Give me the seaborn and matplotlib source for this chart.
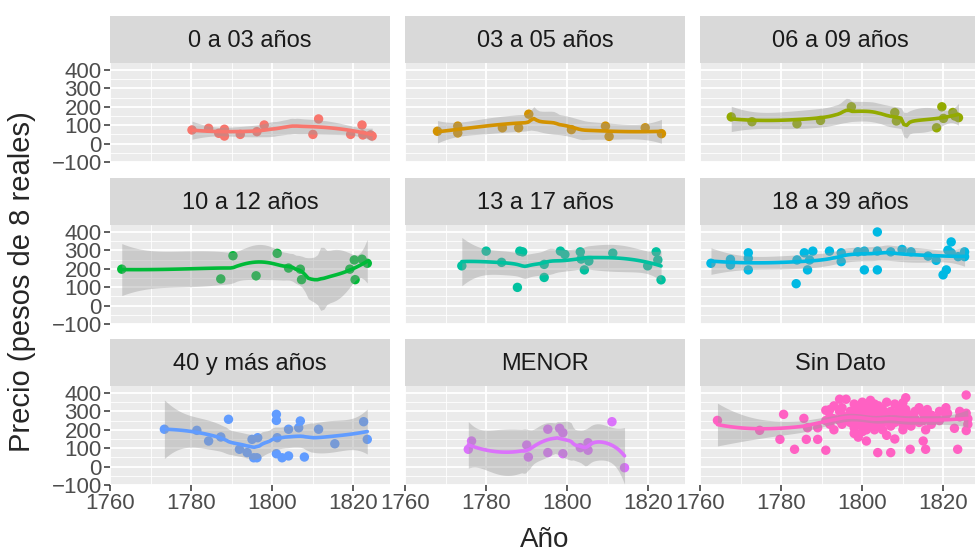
import numpy as np
import matplotlib
matplotlib.use('Agg')
import matplotlib.pyplot as plt
import seaborn as sns

# Paneles (facetas) y colores tipo ggplot
grupos = ['0 a 03 años', '03 a 05 años', '06 a 09 años',
          '10 a 12 años', '13 a 17 años', '18 a 39 años',
          '40 y más años', 'MENOR', 'Sin Dato']
colores = ['#F8766D', '#D39200', '#93AA00', '#00BA38', '#00C19F',
           '#00B9E3', '#619CFF', '#DB72FB', '#FF61C3']

anio_0_3 = [1780.2, 1784.3, 1786.8, 1788.2, 1788.2, 1792.1, 1796.2, 1798.0,
            1810.0, 1811.4, 1819.3, 1822.1, 1822.3, 1824.2, 1824.6]
precio_0_3 = [74, 83, 56, 78, 41, 50, 65, 101, 50, 134, 50, 101, 47, 47, 41]

anio_3_5 = [1768.0, 1773.0, 1773.0, 1784.0, 1788.0, 1790.5, 1801.0, 1809.4,
            1810.3, 1819.2, 1823.2]
precio_3_5 = [67, 95, 58, 86, 86, 160, 76, 95, 39, 86, 54]

anio_6_9 = [1767.7, 1772.8, 1783.9, 1789.7, 1797.3, 1808.0, 1808.4, 1818.3,
            1819.6, 1820.0, 1822.3, 1822.8, 1823.7]
precio_6_9 = [145, 119, 108, 126, 200, 169, 123, 86, 200, 137, 169, 150, 141]

anio_10_12 = [1762.9, 1787.3, 1790.3, 1796.0, 1801.2, 1804.0, 1806.9, 1807.2,
              1819.1, 1820.2, 1820.4, 1822.1, 1823.4]
precio_10_12 = [198, 145, 271, 162, 284, 204, 198, 141, 198, 248, 141, 252, 230]

anio_13_17 = [1774.0, 1780.0, 1783.8, 1787.7, 1788.3, 1789.0, 1794.3, 1794.3,
              1798.3, 1799.4, 1803.2, 1803.4, 1804.2, 1805.3, 1811.2, 1819.8,
              1821.9, 1822.3, 1823.1]
precio_13_17 = [216, 296, 235, 99, 296, 292, 224, 153, 296, 278, 292, 253,
                194, 242, 285, 216, 292, 248, 140]

anio_18_39 = [1762.7, 1767.5, 1767.5, 1771.9, 1771.9, 1771.9, 1783.7, 1783.9,
              1785.7, 1786.5, 1787.0, 1787.8, 1791.9, 1794.8, 1794.8, 1798.9,
              1800.5, 1800.5, 1803.7, 1803.7, 1803.7, 1807.0, 1809.8, 1812.0,
              1816.2, 1818.2, 1819.9, 1820.7, 1821.1, 1821.9, 1821.9, 1823.6,
              1825.2, 1825.2]
precio_18_39 = [230, 251, 221, 287, 257, 194, 119, 248, 287, 194, 248, 296,
                296, 287, 239, 292, 194, 296, 400, 194, 296, 292, 305, 292,
                269, 246, 167, 194, 301, 346, 287, 266, 292, 266]

anio_40 = [1773.4, 1781.4, 1784.3, 1787.3, 1789.2, 1791.9, 1793.8, 1795.0,
           1795.4, 1796.2, 1796.4, 1801.0, 1801.0, 1801.2, 1801.0, 1802.4,
           1804.0, 1804.0, 1806.9, 1806.5, 1807.9, 1811.4, 1815.4, 1822.5,
           1823.4]
precio_40 = [203, 197, 139, 161, 257, 94, 76, 148, 48, 48, 157, 284, 251, 157,
             70, 48, 58, 203, 248, 211, 52, 203, 124, 244, 148]

anio_menor = [1775.6, 1776.4, 1790.0, 1790.4, 1795.2, 1795.2, 1798.1, 1798.9,
              1798.9, 1803.2, 1805.1, 1805.1, 1811.0, 1814.1]
precio_menor = [94, 139, 117, 52, 203, 76, 208, 184, 70, 103, 130, 89, 244, -6]

anio_sd = [1764.3, 1774.7, 1779.7, 1780.6, 1783.3, 1785.6, 1786.2, 1786.5,
           1789.0, 1789.0, 1791.0, 1791.0, 1791.0, 1792.0, 1792.0, 1792.0,
           1793.0, 1793.0, 1793.0, 1794.4, 1794.4, 1794.4, 1795.0, 1795.0,
           1795.0, 1796.0, 1796.0, 1797.0, 1797.0, 1798.0, 1798.0, 1798.0,
           1798.0, 1798.0, 1799.0, 1799.0, 1799.0, 1799.0, 1799.0, 1800.0,
           1800.0, 1800.0, 1800.0, 1800.0, 1800.0, 1801.0, 1801.0, 1801.0,
           1801.0, 1801.0, 1801.0, 1802.0, 1802.0, 1802.0, 1802.0, 1802.0,
           1803.0, 1803.0, 1803.0, 1803.0, 1803.0, 1803.8, 1803.8, 1803.8,
           1804.0, 1804.0, 1804.0, 1805.0, 1805.0, 1805.0, 1805.0, 1806.0,
           1806.0, 1806.0, 1806.0, 1807.0, 1807.0, 1807.0, 1807.0, 1808.0,
           1808.0, 1808.0, 1808.0, 1809.0, 1809.0, 1809.0, 1810.0, 1810.0,
           1810.0, 1810.0, 1810.7, 1810.7, 1810.7, 1811.8, 1811.8, 1812.0,
           1812.0, 1813.0, 1813.0, 1814.0, 1814.0, 1815.0, 1815.0, 1815.0,
           1815.6, 1815.6, 1816.0, 1816.0, 1817.0, 1817.0, 1818.0, 1819.0,
           1819.0, 1820.6, 1820.6, 1821.0, 1822.7, 1823.5, 1824.0, 1824.0,
           1825.6, 1825.6, 1825.6, 1826.0, 1826.0]
precio_sd = [251, 197, 148, 284, 94, 262, 148, 211,
             148, 211, 89, 306, 250, 270, 230, 310,
             260, 330, 200, 366, 300, 250, 280, 230,
             320, 366, 260, 240, 300, 340, 290, 250,
             210, 180, 320, 270, 230, 300, 160, 350,
             300, 260, 220, 190, 250, 330, 280, 240,
             139, 300, 200, 360, 310, 270, 230, 250,
             340, 290, 250, 200, 320, 76, 280, 230,
             330, 260, 300, 310, 240, 280, 200, 350,
             290, 250, 170, 76, 300, 260, 220, 340,
             280, 240, 150, 300, 260, 320, 347, 290,
             230, 200, 374, 310, 260, 94, 250, 280,
             220, 300, 260, 320, 240, 139, 290, 250,
             94, 200, 310, 270, 280, 230, 260, 300,
             250, 320, 280, 290, 208, 94, 270, 300,
             389, 196, 290, 260, 230]

anios = [anio_0_3, anio_3_5, anio_6_9, anio_10_12, anio_13_17, anio_18_39,
         anio_40, anio_menor, anio_sd]
precios = [precio_0_3, precio_3_5, precio_6_9, precio_10_12, precio_13_17,
           precio_18_39, precio_40, precio_menor, precio_sd]


def loess_rows(x, xq, span=0.75):
    # filas del operador loess (grado 2, pesos tricubicos) en los puntos xq
    n = len(x)
    q = int(np.floor(n * span))
    rows = []
    for x0 in xq:
        d = np.abs(x - x0)
        h = np.sort(d)[q - 1]
        w = np.clip(1 - (d / h) ** 3, 0, None) ** 3
        X = np.column_stack([np.ones(n), x - x0, (x - x0) ** 2])
        XtW = X.T * w
        rows.append(np.linalg.pinv(XtW @ X)[0] @ XtW)
    return np.array(rows)


def loess_ci(x, y, xq):
    L = loess_rows(x, x)
    M = np.eye(len(x)) - L
    A = M.T @ M
    d1 = np.trace(A)
    d2 = np.trace(A @ A)
    sigma = np.sqrt(np.sum((y - L @ y) ** 2) / d1)
    Lq = loess_rows(x, xq)
    fit = Lq @ y
    se = sigma * np.sqrt(np.sum(Lq ** 2, axis=1))
    df = d1 ** 2 / d2
    z = 1.959964
    t = z + (z ** 3 + z) / (4 * df) + (5 * z ** 5 + 16 * z ** 3 + 3 * z) / (96 * df ** 2)
    return fit, fit - t * se, fit + t * se


sns.set_style('darkgrid')
plt.rcParams['font.family'] = ['Liberation Sans', 'DejaVu Sans']

W, H = 975, 555
fig = plt.figure(figsize=(9.75, 5.55), dpi=100)

col_left = [110, 405, 700]
row_top = [63, 225, 386]
panel_w, panel_h, strip_h = 280, 99, 47

for i, grupo in enumerate(grupos):
    r, c = divmod(i, 3)
    x0, y0 = col_left[c], row_top[r]
    ax = fig.add_axes([x0 / W, 1 - (y0 + panel_h) / H, panel_w / W, panel_h / H])
    sax = fig.add_axes([x0 / W, 1 - y0 / H, panel_w / W, strip_h / H])

    # cabecera de la faceta
    sax.set_facecolor('#D9D9D9')
    sax.set_xticks([])
    sax.set_yticks([])
    for s in sax.spines.values():
        s.set_visible(False)
    sax.text(0.5, 0.47, grupo, ha='center', va='center', fontsize=17,
             color='#1A1A1A', transform=sax.transAxes)

    x = np.array(anios[i], dtype=float)
    y = np.array(precios[i], dtype=float)
    sns.scatterplot(x=x, y=y, color=colores[i], s=46, edgecolor='none',
                    ax=ax, legend=False)

    xq = np.linspace(x.min(), x.max(), 80)
    fit, lo, hi = loess_ci(x, y, xq)
    ax.fill_between(xq, lo, hi, color=(0.6, 0.6, 0.6, 0.4), lw=0)
    sns.lineplot(x=xq, y=fit, color=colores[i], lw=2.6, ax=ax)

    ax.set_facecolor('#EBEBEB')
    ax.set_xlim(1760, 1829)
    ax.set_ylim(-100, 438)
    ax.set_xticks([1760, 1780, 1800, 1820])
    ax.set_xticks([1770, 1790, 1810], minor=True)
    ax.set_yticks([-100, 0, 100, 200, 300, 400])
    ax.set_yticks([-50, 50, 150, 250, 350], minor=True)
    ax.grid(which='major', color='white', lw=1.3)
    ax.grid(which='minor', color='white', lw=0.6)
    ax.set_axisbelow(True)
    for s in ax.spines.values():
        s.set_visible(False)
    ax.set_xlabel('')
    ax.set_ylabel('')
    ax.tick_params(which='minor', length=0)
    ax.tick_params(axis='both', which='major', labelsize=16,
                   labelcolor='#4D4D4D', color='#333333', width=1.1,
                   length=4, pad=2)
    ax.tick_params(axis='x', bottom=(r == 2), labelbottom=(r == 2))
    ax.tick_params(axis='y', left=(c == 0), labelleft=(c == 0))

fig.text(22 / W, 1 - 282 / H, 'Precio (pesos de 8 reales)', rotation=90,
         ha='center', va='center', fontsize=21)
fig.text(545 / W, 1 - 540 / H, 'Año', ha='center', va='center', fontsize=20)

fig.savefig('out.png', dpi=100)
